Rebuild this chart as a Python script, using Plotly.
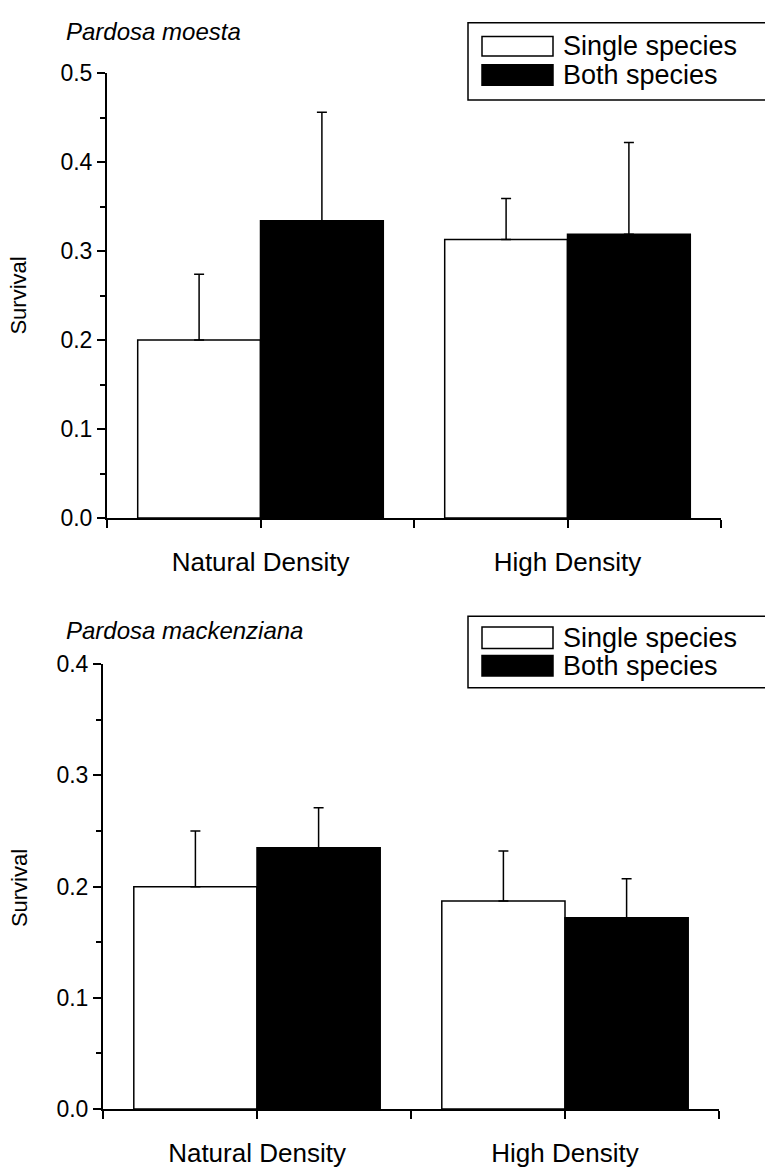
import plotly.graph_objects as go

# ---- data -------------------------------------------------------------
categories = ["Natural Density", "High Density"]
series_names = ["Single species", "Both species"]

moesta_single = [0.200, 0.313]
moesta_single_err = [0.074, 0.046]
moesta_both = [0.334, 0.319]
moesta_both_err = [0.122, 0.103]

mack_single = [0.200, 0.187]
mack_single_err = [0.050, 0.045]
mack_both = [0.235, 0.172]
mack_both_err = [0.036, 0.035]

panel_titles = ["Pardosa moesta", "Pardosa mackenziana"]
y_label = "Survival"

# ---- figure geometry --------------------------------------------------
W, H = 765, 1170
FONT = "Liberation Sans, Arial, Helvetica, sans-serif"


def px(x):
    return x / W


def py(y):
    return 1 - y / H


xpos = list(range(len(categories)))

fig = go.Figure()


def add_panel(single, single_err, both, both_err, xa, ya):
    fig.add_trace(go.Bar(
        x=xpos, y=single, name=series_names[0], xaxis=xa, yaxis=ya,
        marker=dict(color="white", line=dict(color="black", width=1.5)),
        error_y=dict(type="data", symmetric=False, array=single_err,
                     arrayminus=[0] * len(single), color="black",
                     thickness=1.5, width=5),
        showlegend=False,
    ))
    fig.add_trace(go.Bar(
        x=xpos, y=both, name=series_names[1], xaxis=xa, yaxis=ya,
        marker=dict(color="black", line=dict(color="black", width=1.5)),
        error_y=dict(type="data", symmetric=False, array=both_err,
                     arrayminus=[0] * len(both), color="black",
                     thickness=1.5, width=5),
        showlegend=False,
    ))


add_panel(moesta_single, moesta_single_err, moesta_both, moesta_both_err, "x", "y")
add_panel(mack_single, mack_single_err, mack_both, mack_both_err, "x2", "y2")

tick_font = dict(family=FONT, size=23, color="black")
cat_font = dict(family=FONT, size=26, color="black")


def xaxis_style(domain, anchor):
    return dict(
        domain=domain, anchor=anchor, range=[-0.5, 1.5],
        tickmode="array", tickvals=xpos, ticktext=categories,
        ticks="outside", ticklen=8, tickwidth=1.5, tickcolor="black",
        showline=True, linecolor="black", linewidth=2,
        showgrid=False, zeroline=False, tickfont=cat_font,
        ticklabelstandoff=12,
        minor=dict(tickmode="array", tickvals=[-0.5, 0.5, 1.5],
                   ticks="outside", ticklen=8, tickwidth=1.5,
                   tickcolor="black", showgrid=False),
    )


def yaxis_style(domain, anchor, top):
    return dict(
        domain=domain, anchor=anchor, range=[0, top],
        tickmode="linear", tick0=0, dtick=0.1, tickformat=".1f",
        ticks="outside", ticklen=8, tickwidth=1.5, tickcolor="black",
        showline=True, linecolor="black", linewidth=2,
        showgrid=False, zeroline=False, tickfont=tick_font,
        minor=dict(dtick=0.05, ticks="outside", ticklen=5, tickwidth=1.5,
                   tickcolor="black", showgrid=False),
    )


fig.update_layout(
    width=W, height=H,
    margin=dict(l=0, r=0, t=0, b=0),
    paper_bgcolor="white", plot_bgcolor="white",
    barmode="group", bargap=0.2, bargroupgap=0,
    xaxis=xaxis_style([px(107), px(721)], "y"),
    yaxis=yaxis_style([py(516.5), py(61.5)], "x", 0.5),
    xaxis2=xaxis_style([px(103), px(719)], "y2"),
    yaxis2=yaxis_style([py(1121), py(666)], "x2", 0.4),
)

# ---- panel titles and axis labels ----------------------------------------
annotations = []
for title, ycen in zip(panel_titles, [19, 632]):
    annotations.append(dict(
        text=f"<i>{title}</i>", x=px(64), y=py(ycen), xref="paper", yref="paper",
        xanchor="left", yanchor="middle", showarrow=False,
        font=dict(family=FONT, size=24, color="black"),
    ))
for ymid in [289, 895]:
    annotations.append(dict(
        text=y_label, x=px(19), y=py(ymid), xref="paper", yref="paper",
        xanchor="center", yanchor="middle", showarrow=False, textangle=-90,
        font=dict(family=FONT, size=22, color="black"),
    ))

# ---- legend boxes (wide swatches, drawn as shapes) --------------------------
shapes = []
swatch_colors = ["white", "black"]
legend_boxes = [
    # box top, box bottom, (white swatch rows), (black swatch rows)
    (10, 89, (24, 44), (53, 74)),
    (617, 690, (628, 650), (657, 678)),
]
for top, bottom, row_w, row_b in legend_boxes:
    shapes.append(dict(type="rect", xref="paper", yref="paper",
                       x0=px(468), x1=px(768), y0=py(top), y1=py(bottom),
                       line=dict(color="black", width=1.5), fillcolor="rgba(0,0,0,0)"))
    for (r0, r1), col, name in zip([row_w, row_b], swatch_colors, series_names):
        shapes.append(dict(type="rect", xref="paper", yref="paper",
                           x0=px(482), x1=px(553), y0=py(r0), y1=py(r1),
                           line=dict(color="black", width=1.5), fillcolor=col))
        annotations.append(dict(
            text=name, x=px(561), y=py((r0 + r1) / 2), xref="paper", yref="paper",
            xanchor="left", yanchor="middle", showarrow=False,
            font=dict(family=FONT, size=27, color="black"),
        ))

fig.update_layout(annotations=annotations, shapes=shapes)

fig.write_html("out.html")
